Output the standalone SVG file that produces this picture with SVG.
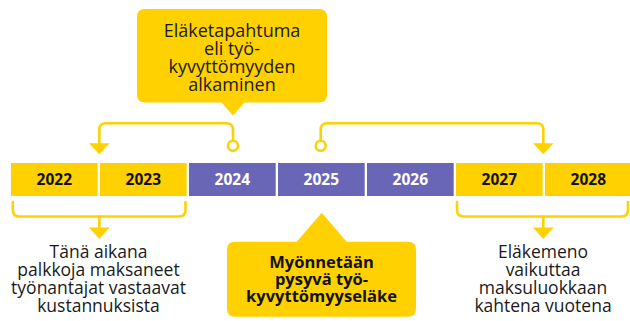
<svg xmlns="http://www.w3.org/2000/svg" width="630" height="321" viewBox="0 0 630 321">
<style>
.y{fill:#FFD100}
.p{fill:#6A66B7}
.yr{font-family:"Open Sans","Liberation Sans",sans-serif;font-weight:700;font-size:15.5px;text-anchor:middle}
.dk{fill:#111}
.wt{fill:#fff}
.lbl{font-family:"Open Sans","Liberation Sans",sans-serif;font-size:17.5px;text-anchor:middle;fill:#1a1a1a}
.cl{font-family:"Open Sans","Liberation Sans",sans-serif;font-size:18px;text-anchor:middle;fill:#1a1a1a}
.cb{font-family:"Open Sans","Liberation Sans",sans-serif;font-weight:700;font-size:16.5px;text-anchor:middle;fill:#111}
.ln{fill:none;stroke:#FFD100;stroke-width:2.6;stroke-linecap:round;stroke-linejoin:round}
.dot{fill:#fff;stroke:#FFD100;stroke-width:2.6}
</style>
<g id="y2022"><rect class="y" x="11" y="163" width="86.7" height="33"/><text class="yr dk" x="54.3" y="185">2022</text></g>
<g id="y2023"><rect class="y" x="100" y="163" width="86.7" height="33"/><text class="yr dk" x="143.3" y="185">2023</text></g>
<g id="y2024"><rect class="p" x="189" y="163" width="86.7" height="33"/><text class="yr wt" x="232.3" y="185">2024</text></g>
<g id="y2025"><rect class="p" x="278" y="163" width="86.7" height="33"/><text class="yr wt" x="321.3" y="185">2025</text></g>
<g id="y2026"><rect class="p" x="367" y="163" width="86.7" height="33"/><text class="yr wt" x="410.3" y="185">2026</text></g>
<g id="y2027"><rect class="y" x="456" y="163" width="86.7" height="33"/><text class="yr dk" x="499.3" y="185">2027</text></g>
<g id="y2028"><rect class="y" x="545" y="163" width="86.7" height="33"/><text class="yr dk" x="588.3" y="185">2028</text></g>
<g id="callout-top">
<path class="y" d="M145 9 H319 Q327 9 327 17 V94.5 Q327 102.5 319 102.5 H244.5 L233 115.5 L221.5 102.5 H145 Q137 102.5 137 94.5 V17 Q137 9 145 9 Z"/>
<text class="cl" x="232" y="37">Eläketapahtuma</text>
<text class="cl" x="232" y="55">eli työ-</text>
<text class="cl" x="232" y="73">kyvyttömyyden</text>
<text class="cl" x="232" y="91">alkaminen</text>
</g>
<g id="callout-bottom">
<path class="y" d="M235 241.7 H296.7 L321.7 212.7 L346.7 241.7 H408 Q416 241.7 416 249.7 V308.7 Q416 316.7 408 316.7 H235 Q227 316.7 227 308.7 V249.7 Q227 241.7 235 241.7 Z"/>
<text class="cb" x="321.5" y="267.5">Myönnetään</text>
<text class="cb" x="321.5" y="284.5">pysyvä työ-</text>
<text class="cb" x="321.5" y="301.5">kyvyttömyyseläke</text>
</g>
<g id="note-left">
<text class="lbl" x="98.5" y="258">Tänä aikana</text>
<text class="lbl" x="98.5" y="276">palkkoja maksaneet</text>
<text class="lbl" x="98.5" y="294">työnantajat vastaavat</text>
<text class="lbl" x="98.5" y="312">kustannuksista</text>
</g>
<g id="note-right">
<text class="lbl" x="543" y="257.5">Eläkemeno</text>
<text class="lbl" x="543" y="275.5">vaikuttaa</text>
<text class="lbl" x="543" y="293.5">maksuluokkaan</text>
<text class="lbl" x="543" y="311.5">kahtena vuotena</text>
</g>
<g id="connectors">
<path class="ln" d="M233 140 V130 Q233 123.3 226.3 123.3 H106 Q99.3 123.3 99.3 130 V145"/>
<polygon class="y" points="89,143.3 109.6,143.3 99.3,154.3"/>
<circle class="dot" cx="233" cy="145.7" r="5"/>
<path class="ln" d="M320.7 140 V130 Q320.7 123.3 327.4 123.3 H536.6 Q543.3 123.3 543.3 130 V145"/>
<polygon class="y" points="533,143.3 553.6,143.3 543.3,154.3"/>
<circle class="dot" cx="320.7" cy="145.7" r="5"/>
<path class="ln" d="M12.8 202 V210 Q12.8 216.5 19.3 216.5 H179 Q185.5 216.5 185.5 210 V202"/>
<path class="ln" d="M99.3 216.5 V229"/>
<polygon class="y" points="89,227.5 109.6,227.5 99.3,239"/>
<path class="ln" d="M457 202 V210 Q457 216.5 463.5 216.5 H621.5 Q628 216.5 628 210 V202"/>
<path class="ln" d="M543.3 216.5 V229"/>
<polygon class="y" points="533,227.5 553.6,227.5 543.3,239"/>
</g>
</svg>
